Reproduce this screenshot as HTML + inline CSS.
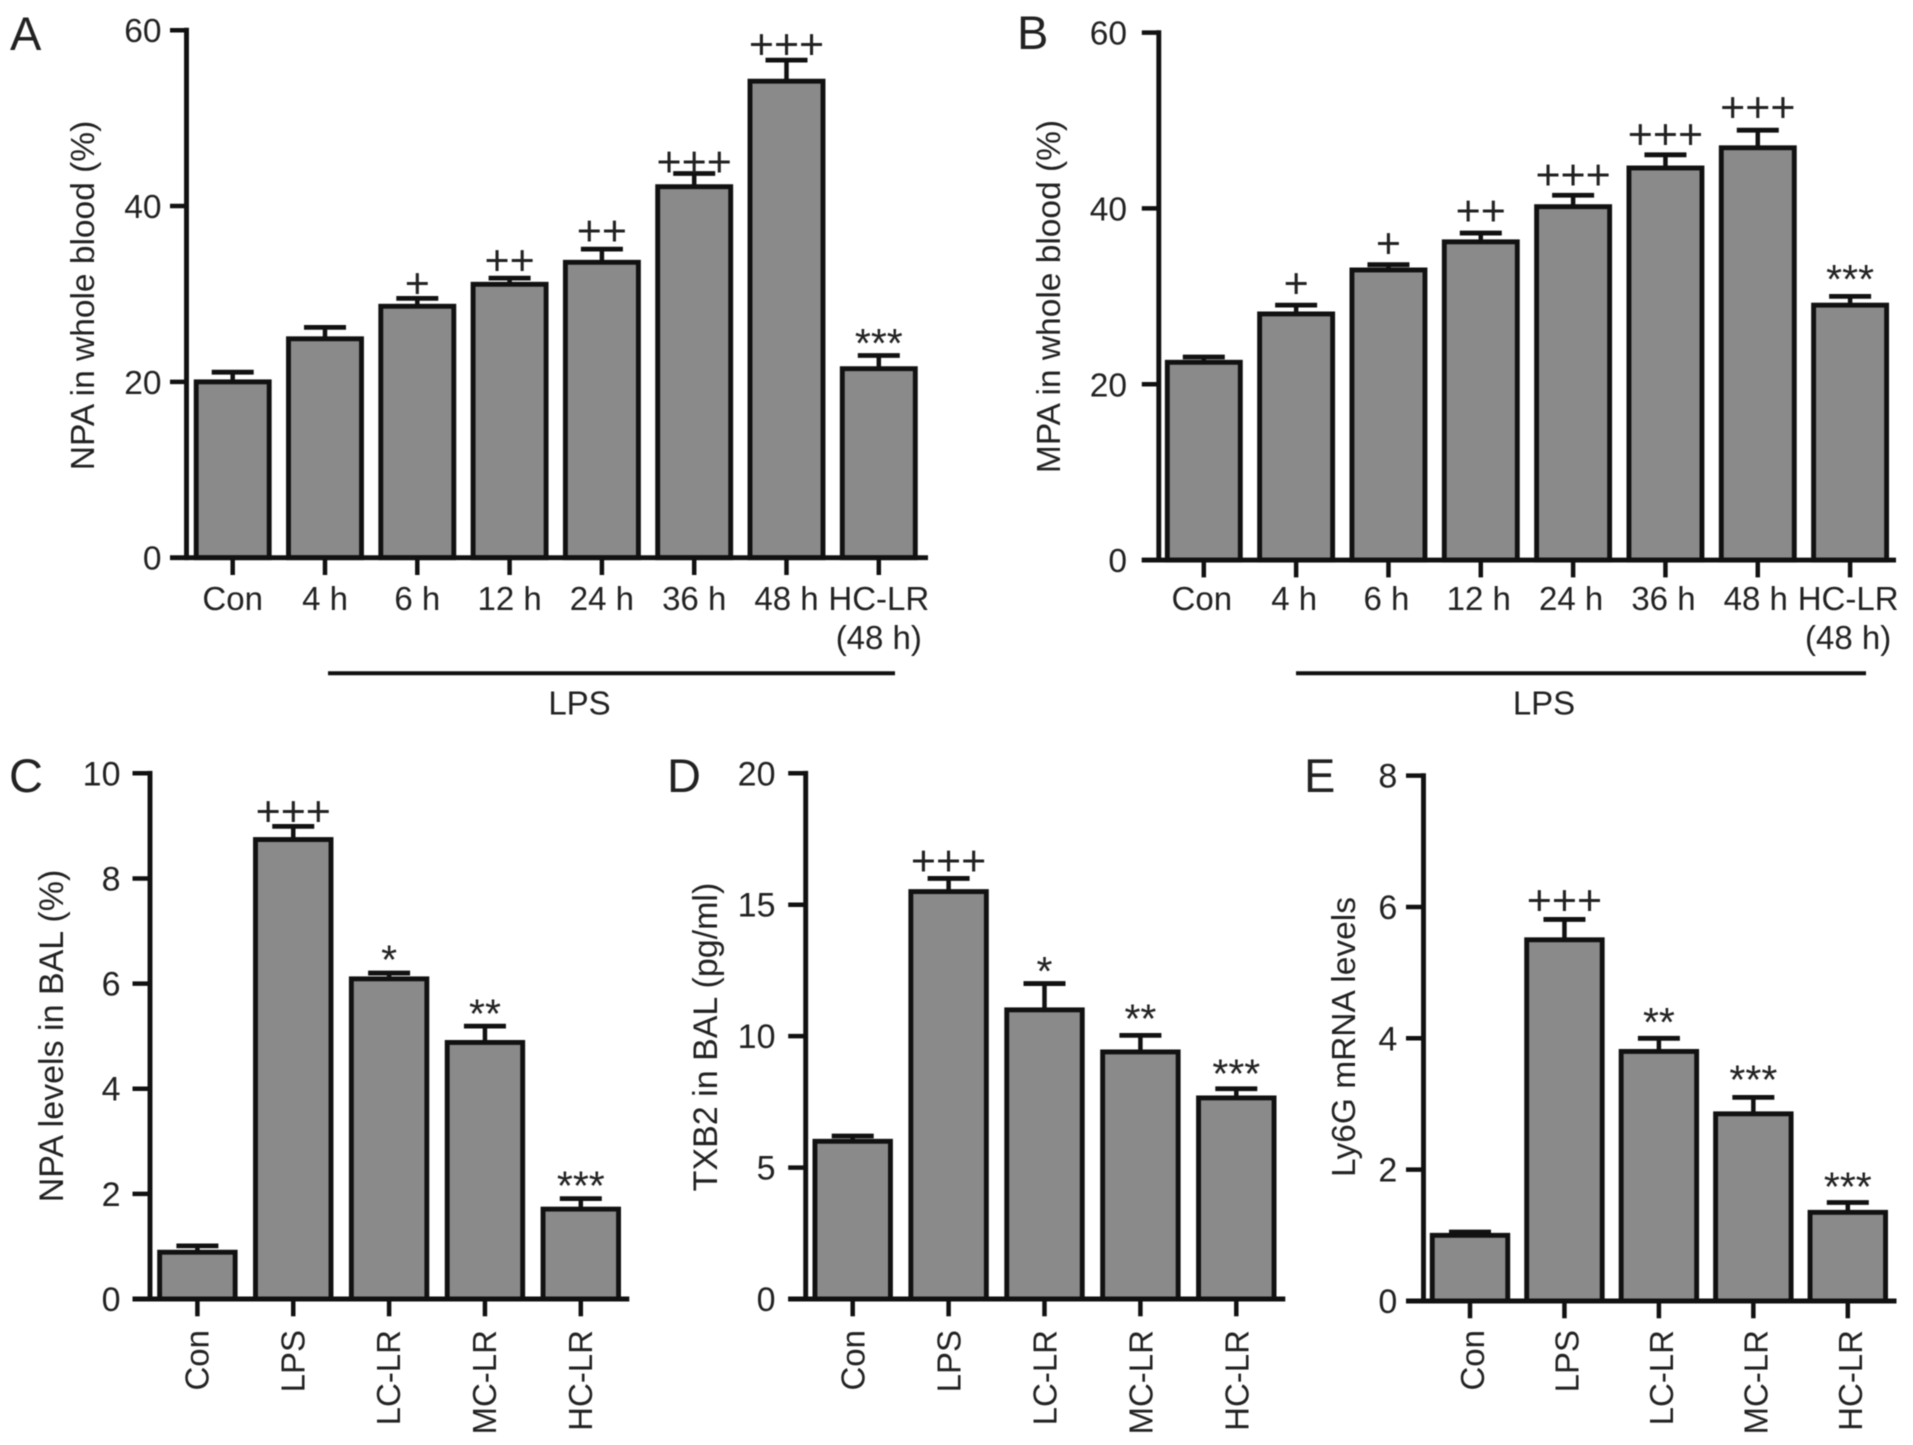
<!DOCTYPE html>
<html lang="en">
<head>
<meta charset="utf-8">
<title>NPA, MPA, TXB2 and Ly6G bar charts</title>
<style>
  html, body { margin: 0; padding: 0; background: #fff; }
  body { width: 1913px; height: 1445px; overflow: hidden; }
  svg { display: block; filter: blur(0.55px); }
  text { font-family: "Liberation Sans", Arial, sans-serif; fill: #222; }
  .panel-letter { font-size: 47px; }
  .axis-title { text-anchor: middle; }
  .tick-text { font-size: 33px; }
</style>
</head>
<body>
<svg id="figure" xmlns="http://www.w3.org/2000/svg" width="1913" height="1445" viewBox="0 0 1913 1445">
  <rect x="0" y="0" width="1913" height="1445" fill="#fff"/>

  <text class="panel-letter" x="10" y="50">A</text>
  <text class="panel-letter" x="1017" y="49">B</text>
  <text class="panel-letter" x="9" y="792">C</text>
  <text class="panel-letter" x="667" y="792">D</text>
  <text class="panel-letter" x="1304" y="792">E</text>

  <text class="axis-title" font-size="33.5" transform="translate(94 295.5) rotate(-90)">NPA in whole blood (%)</text>
  <text class="axis-title" font-size="33.5" transform="translate(1060 296.5) rotate(-90)">MPA in whole blood (%)</text>
  <text class="axis-title" font-size="34" transform="translate(63 1036) rotate(-90)">NPA levels in BAL (%)</text>
  <text class="axis-title" font-size="34" transform="translate(717 1037) rotate(-90)">TXB2 in BAL (pg/ml)</text>
  <text class="axis-title" font-size="33.5" transform="translate(1355 1037) rotate(-90)">Ly6G mRNA levels</text>

  <line x1="328" y1="673.3" x2="895" y2="673.3" stroke="#111" stroke-width="4"/>
  <text class="tick-text" x="579.5" y="714.5" text-anchor="middle">LPS</text>
  <line x1="1296" y1="673.3" x2="1866" y2="673.3" stroke="#111" stroke-width="4"/>
  <text class="tick-text" x="1544" y="714.5" text-anchor="middle">LPS</text>

  <g id="charts"></g>
</svg>

<script>
// ---- Panel A data ----
const categoriesA = ['Con', '4 h', '6 h', '12 h', '24 h', '36 h', '48 h', 'HC-LR\n(48 h)'];
const valuesA = [20, 24.9, 28.6, 31.1, 33.6, 42.2, 54.2, 21.5];
const errorTopsA = [21.1, 26.2, 29.5, 31.8, 35.1, 43.7, 56.6, 23];
const marksA = ['', '', '+', '++', '++', '+++', '+++', '***'];
const markLevelsA = [0, 0, 31.2, 33.8, 37.2, 45, 58.4, 25];
const ticksA = [0, 20, 40, 60];

// ---- Panel B data ----
const categoriesB = ['Con', '4 h', '6 h', '12 h', '24 h', '36 h', '48 h', 'HC-LR\n(48 h)'];
const valuesB = [22.5, 28, 33, 36.2, 40.2, 44.6, 46.9, 29];
const errorTopsB = [23.1, 29, 33.6, 37.2, 41.5, 46.1, 48.9, 30];
const marksB = ['', '+', '+', '++', '+++', '+++', '+++', '***'];
const markLevelsB = [0, 31.5, 36, 39.7, 43.8, 48.4, 51.5, 32.5];
const ticksB = [0, 20, 40, 60];

// ---- Panel C data ----
const categoriesC = ['Con', 'LPS', 'LC-LR', 'MC-LR', 'HC-LR'];
const valuesC = [0.89, 8.74, 6.09, 4.88, 1.71];
const errorTopsC = [1.01, 8.99, 6.2, 5.19, 1.91];
const marksC = ['', '+++', '*', '**', '***'];
const markLevelsC = [0, 9.28, 6.55, 5.52, 2.25];
const ticksC = [0, 2, 4, 6, 8, 10];

// ---- Panel D data ----
const categoriesD = ['Con', 'LPS', 'LC-LR', 'MC-LR', 'HC-LR'];
const valuesD = [6, 15.5, 11, 9.4, 7.65];
const errorTopsD = [6.2, 16, 12, 10.03, 8];
const marksD = ['', '+++', '*', '**', '***'];
const markLevelsD = [0, 16.67, 12.66, 10.86, 8.76];
const ticksD = [0, 5, 10, 15, 20];

// ---- Panel E data ----
const categoriesE = ['Con', 'LPS', 'LC-LR', 'MC-LR', 'HC-LR'];
const valuesE = [1, 5.5, 3.8, 2.85, 1.35];
const errorTopsE = [1.05, 5.81, 4, 3.1, 1.5];
const marksE = ['', '+++', '**', '***', '***'];
const markLevelsE = [0, 6.1, 4.32, 3.45, 1.82];
const ticksE = [0, 2, 4, 6, 8];

const NS = 'http://www.w3.org/2000/svg';
const INK = '#111';
const FILL = '#8a8a8a';
const root = document.getElementById('charts');

function mk(tag, attrs, parent) {
  const el = document.createElementNS(NS, tag);
  for (const k in attrs) el.setAttribute(k, attrs[k]);
  parent.appendChild(el);
  return el;
}

function drawPanel(p) {
  const g = mk('g', {}, root);
  
  

  const yMax = p.ticks[p.ticks.length - 1];
  const yScale = v => p.yZero - (v / yMax) * (p.yZero - p.yTop);
  const xScale = i => p.xFirst + i * p.xStep;
  const slug = s => s.split('\n')[0].toLowerCase().replace(/[^a-z0-9]+/g, '-');

  p.categories.forEach((cat, i) => {
    const cx = xScale(i);
    const key = p.id + '-' + slug(cat);

    const stem = mk('line', { x1: cx, x2: cx, y1: yScale(p.values[i]), y2: yScale(p.errorTops[i]), stroke: INK, 'stroke-width': 4.5 }, g);
    
    

    const cap = mk('line', { x1: cx - 21, x2: cx + 21, y1: yScale(p.errorTops[i]), y2: yScale(p.errorTops[i]), stroke: INK, 'stroke-width': 4.8 }, g);
    
    

    const top = yScale(p.values[i]);
    const bar = mk('rect', { x: cx - p.barW / 2, y: top, width: p.barW, height: p.yZero - top, fill: FILL, stroke: INK, 'stroke-width': 4.9 }, g);
    
    

    if (p.marks[i]) {
      const isPlus = p.marks[i][0] === '+';
      const size = isPlus ? 43 : 41;
      const baseShift = isPlus ? 0.34 * size : 0.46 * size;
      const mark = mk('text', { x: cx, y: yScale(p.markLevels[i]) + baseShift, 'text-anchor': 'middle', 'font-size': size }, g);
      mark.textContent = p.marks[i];
      
      
    }

    const tick = mk('line', { x1: cx, x2: cx, y1: p.yZero, y2: p.yZero + 17.3, stroke: INK, 'stroke-width': 4.5 }, g);
    
    

    if (p.rotated) {
      const lx = cx + p.labelDx + 12;
      const label = mk('text', { x: lx, y: p.labelY, 'font-size': 33, 'text-anchor': 'end', transform: 'rotate(-90 ' + lx + ' ' + p.labelY + ')' }, g);
      label.textContent = cat;
      
      
    } else {
      cat.split('\n').forEach((line, n) => {
        const label = mk('text', { x: cx + p.labelDx, y: p.labelY + n * 39, 'font-size': 33, 'text-anchor': 'middle' }, g);
        label.textContent = line;
        
        
      });
    }
  });

  const yAxis = mk('line', { x1: p.axisX, x2: p.axisX, y1: p.yTop - 2.4, y2: p.yZero + 2.4, stroke: INK, 'stroke-width': 4.9 }, g);
  
  

  const xAxis = mk('line', { x1: p.axisX - p.tickLen, x2: p.baseEnd, y1: p.yZero, y2: p.yZero, stroke: INK, 'stroke-width': 4.9 }, g);
  
  

  p.ticks.forEach(t => {
    const y = yScale(t);
    const tick = mk('line', { x1: p.axisX - p.tickLen, x2: p.axisX, y1: y, y2: y, stroke: INK, 'stroke-width': 4.5 }, g);
    
    

    const label = mk('text', { x: p.tickRight, y: y + 12, 'font-size': p.tickFont, 'text-anchor': 'end' }, g);
    label.textContent = t;
    
    
  });
}

drawPanel({ id: 'a', categories: categoriesA, values: valuesA, errorTops: errorTopsA, marks: marksA, markLevels: markLevelsA, ticks: ticksA,
  axisX: 186.5, tickLen: 16.5, tickRight: 161.5, tickFont: 33.5, baseEnd: 928, yTop: 30.2, yZero: 557.7, xFirst: 232.7, xStep: 92.3, barW: 73, labelDx: 0, labelY: 610, rotated: false });
drawPanel({ id: 'b', categories: categoriesB, values: valuesB, errorTops: errorTopsB, marks: marksB, markLevels: markLevelsB, ticks: ticksB,
  axisX: 1158.8, tickLen: 17, tickRight: 1127, tickFont: 33.5, baseEnd: 1896, yTop: 32.6, yZero: 560.1, xFirst: 1203.8, xStep: 92.33, barW: 73, labelDx: -2, labelY: 610, rotated: false });
drawPanel({ id: 'c', categories: categoriesC, values: valuesC, errorTops: errorTopsC, marks: marksC, markLevels: markLevelsC, ticks: ticksC,
  axisX: 150, tickLen: 17.5, tickRight: 120.5, tickFont: 34, baseEnd: 629.3, yTop: 773.3, yZero: 1299, xFirst: 197.4, xStep: 95.85, barW: 75.5, labelDx: -1, labelY: 1330, rotated: true });
drawPanel({ id: 'd', categories: categoriesD, values: valuesD, errorTops: errorTopsD, marks: marksD, markLevels: markLevelsD, ticks: ticksD,
  axisX: 805.7, tickLen: 17.5, tickRight: 775.5, tickFont: 34, baseEnd: 1285.3, yTop: 773.3, yZero: 1299, xFirst: 852.7, xStep: 95.9, barW: 75.5, labelDx: 0, labelY: 1330, rotated: true });
drawPanel({ id: 'e', categories: categoriesE, values: valuesE, errorTops: errorTopsE, marks: marksE, markLevels: markLevelsE, ticks: ticksE,
  axisX: 1423.5, tickLen: 17.5, tickRight: 1397.3, tickFont: 34, baseEnd: 1896.5, yTop: 775.6, yZero: 1301, xFirst: 1470, xStep: 94.45, barW: 75.5, labelDx: 2, labelY: 1330, rotated: true });
</script>
</body>
</html>
